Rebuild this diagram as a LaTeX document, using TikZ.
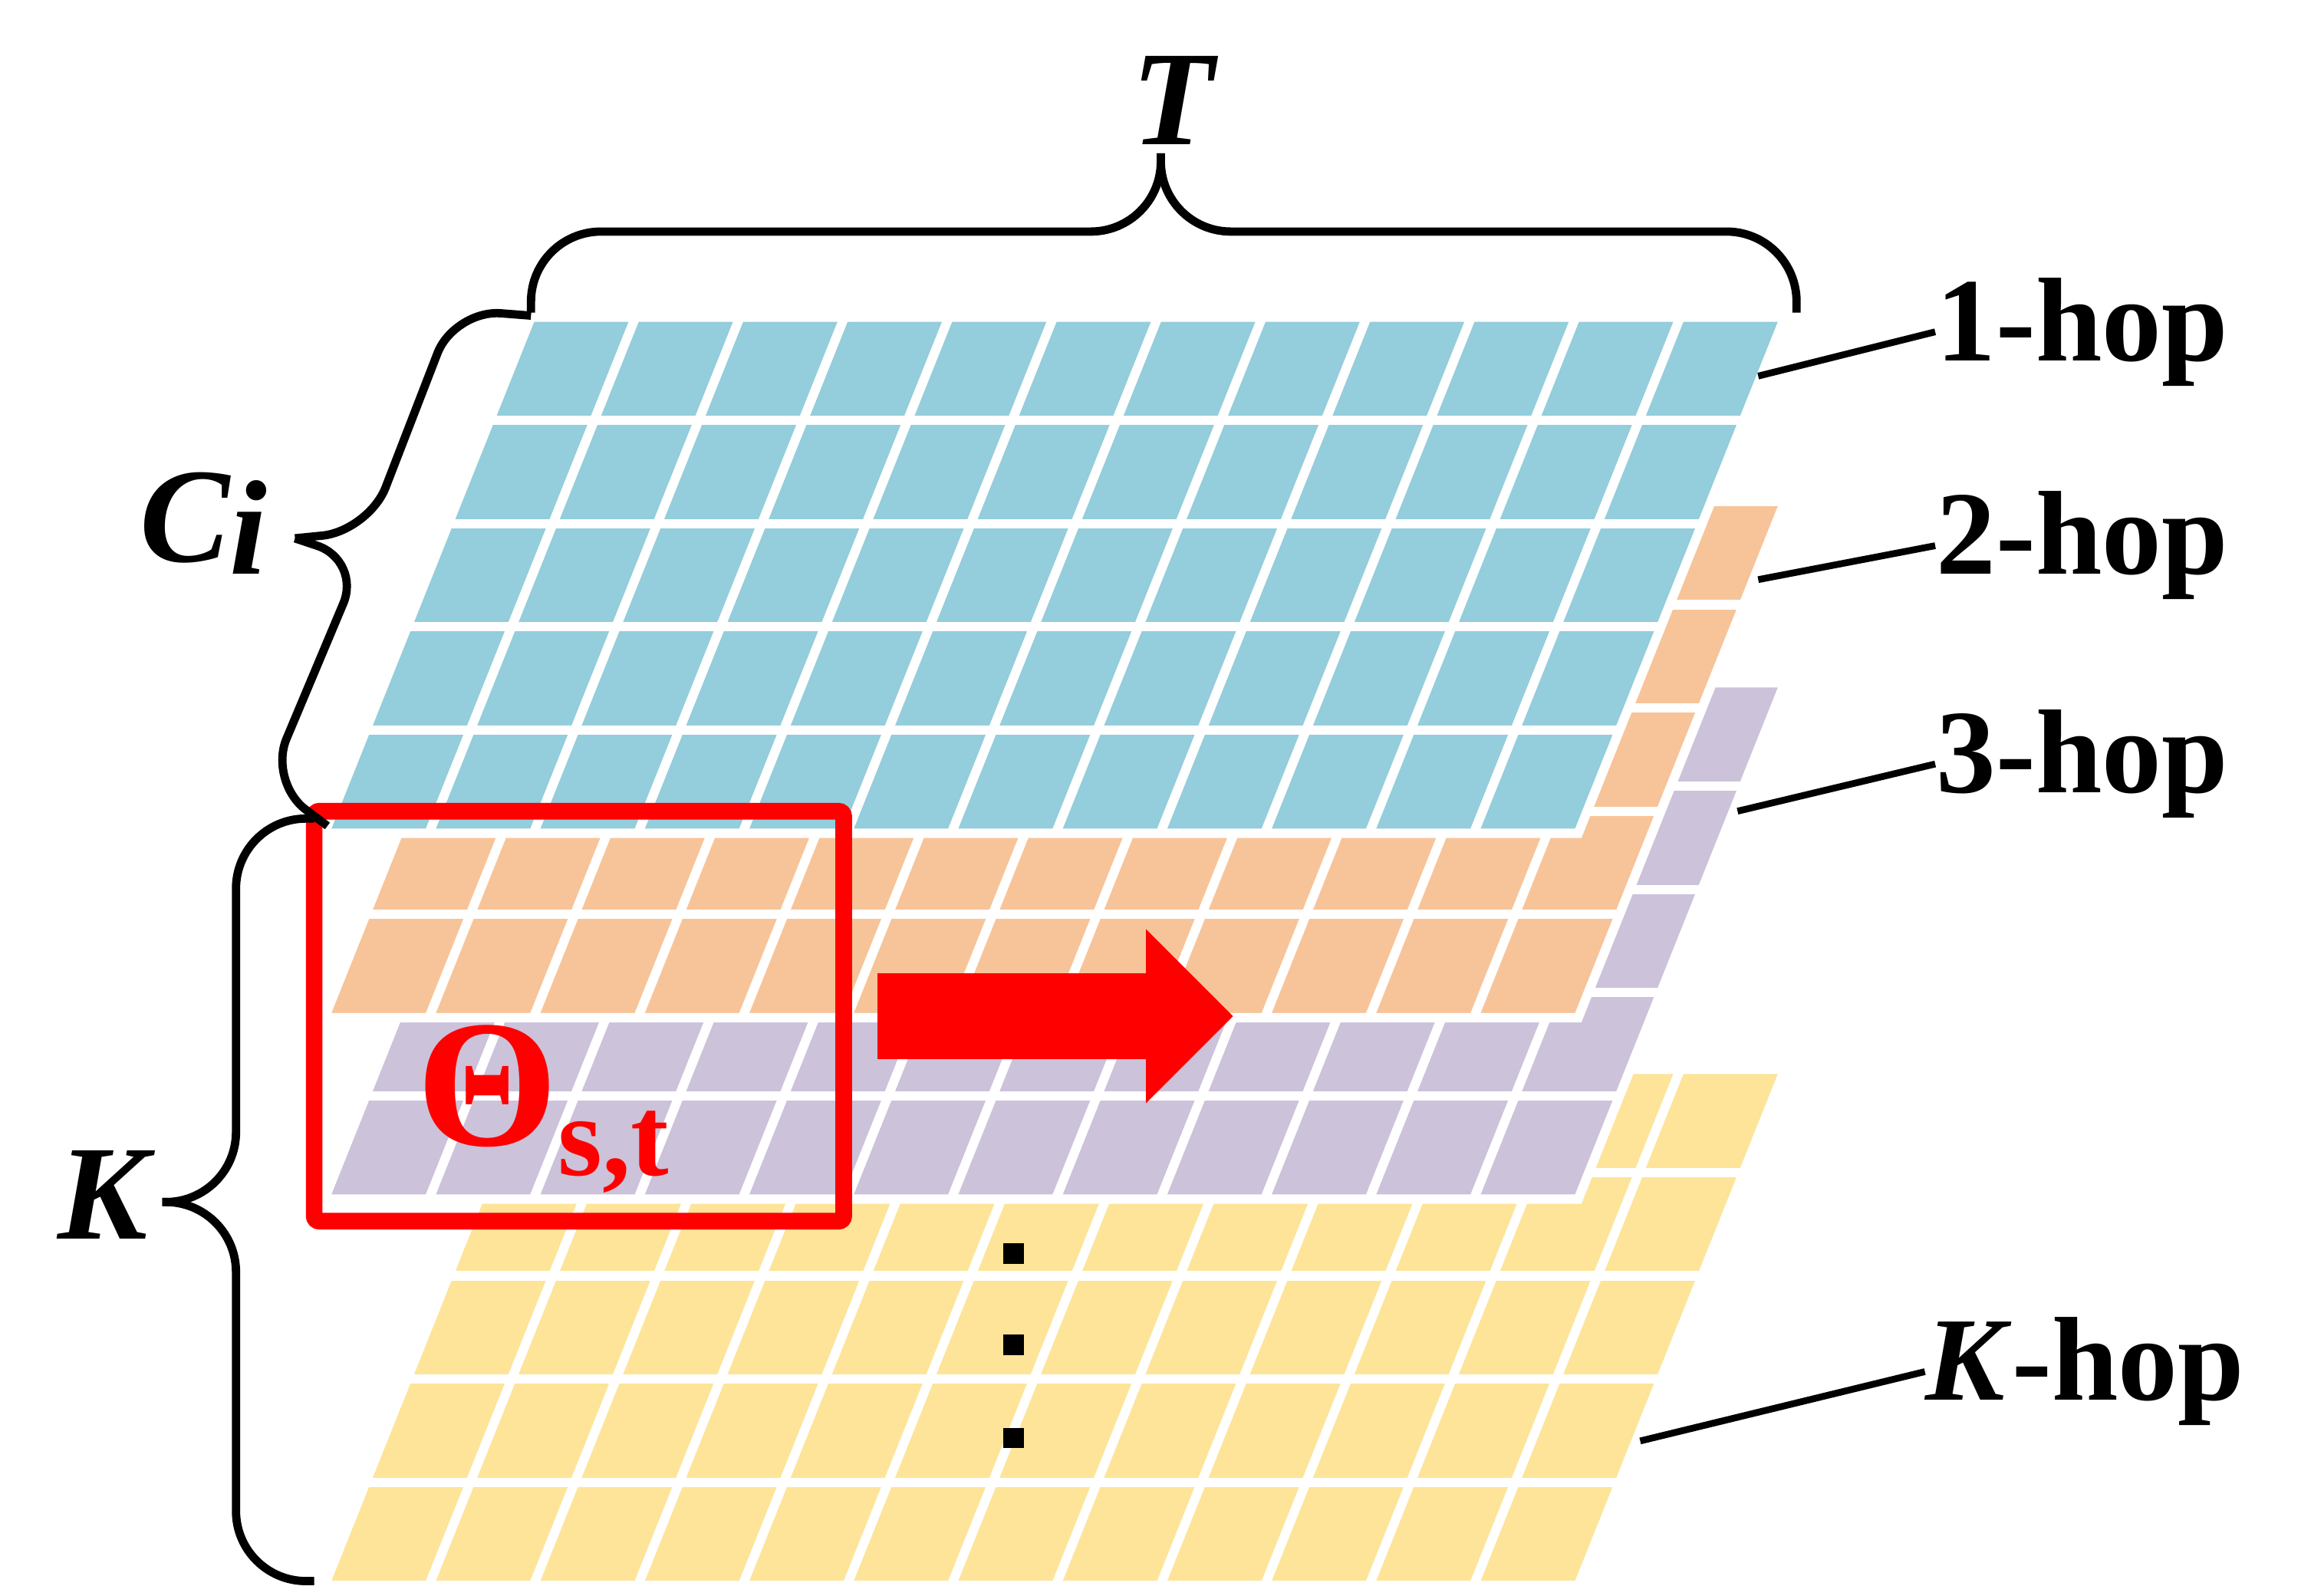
\documentclass[tikz,border=0pt]{standalone}
\usepackage{fontspec}
\setmainfont{Liberation Serif}
\usepackage{tikz}

\definecolor{hopblue}{RGB}{148,205,219}
\definecolor{hoporange}{RGB}{247,196,153}
\definecolor{hoppurple}{RGB}{204,194,218}
\definecolor{hopyellow}{RGB}{253,228,153}

\tikzset{
  grid line/.style={white, line width=1.8pt},
  hop label/.style={font=\fontsize{23}{26}\selectfont\bfseries, anchor=west, inner sep=0pt},
  hop line/.style={black, line width=1.3pt},
  brace/.style={black, line width=1.6pt, rounded corners=13.5pt}
}

% one layer of the grid, top edge at y=#2
\newcommand{\hopsheet}[2]{%
  \fill[#1] (360,#2) -- (1210,#2) -- (1070,#2+350) -- (220,#2+350) -- cycle;
  \foreach \i in {1,...,4}
    \draw[grid line] (360-28*\i,#2+70*\i) -- (1210-28*\i,#2+70*\i);
  \foreach \j in {1,...,11}
    \draw[grid line] (360+70.83*\j,#2) -- (220+70.83*\j,#2+350);
  \draw[grid line] (360,#2) -- (1210,#2) -- (1070,#2+350) -- (220,#2+350) -- cycle;
}

\begin{document}
\begin{tikzpicture}[x=0.01cm, y=-0.01cm]
  \useasboundingbox (0,0) rectangle (1560,1082);

  % layers, back to front
  \hopsheet{hopyellow}{725}
  \hopsheet{hoppurple}{463}
  \hopsheet{hoporange}{340}
  \hopsheet{hopblue}{215}

  % dots
  \foreach \y in {850,912,975}
    \fill (680,\y-7) rectangle (694,\y+7);

  % window and arrow
  \draw[red, line width=3.2pt, rounded corners=1pt] (213,550) rectangle (572,828);
  \fill[red] (595,660) -- (777,660) -- (777,630) -- (836,689) -- (777,748) -- (777,718) -- (595,718) -- cycle;
  \node[red, inner sep=0pt] (THETA) at (368,752)
    {\fontsize{35}{36}\selectfont\bfseries Θ\raisebox{-0.35ex}{\fontsize{22}{24}\selectfont s,t}};

  % braces
  \draw[brace] (360,212) -- (360,157) -- (787,157) -- (787,104);
  \draw[brace] (787,104) -- (787,157) -- (1218,157) -- (1218,212);
  \draw[brace, rounded corners=9pt] (360,214) -- (308,210) -- (250,360) -- (200,365);
  \draw[brace, rounded corners=9pt] (200,365) -- (245,380) -- (182,530) -- (222,560);
  \draw[brace] (213,555) -- (160,555) -- (160,815) -- (110,815);
  \draw[brace] (110,815) -- (160,815) -- (160,1072) -- (213,1072);

  \node[inner sep=0pt] (T) at (795,68) {\fontsize{26}{28}\selectfont\bfseries\itshape T};
  \node[inner sep=0pt] (CI) at (138,355) {\fontsize{26}{28}\selectfont\bfseries\itshape C\raisebox{-0.2ex}{i}};
  \node[inner sep=0pt] (K) at (70,810) {\fontsize{26}{28}\selectfont\bfseries\itshape K};

  % hop labels
  \node[hop label] (HOPA) at (1312,225) {1-hop};
  \node[hop label] (HOPB) at (1312,370) {2-hop};
  \node[hop label] (HOPC) at (1312,518) {3-hop};
  \node[hop label] (HOPK) at (1305,930) {\textit{K}-hop};
  \coordinate (EA) at (1192,255);
  \coordinate (EB) at (1192,393);
  \coordinate (EC) at (1178,550);
  \coordinate (EK) at (1112,977);
  \draw[hop line] (EA) -- (HOPA.west);
  \draw[hop line] (EB) -- (HOPB.west);
  \draw[hop line] (EC) -- (HOPC.west);
  \draw[hop line] (EK) -- (HOPK.west);
\end{tikzpicture}
\end{document}
